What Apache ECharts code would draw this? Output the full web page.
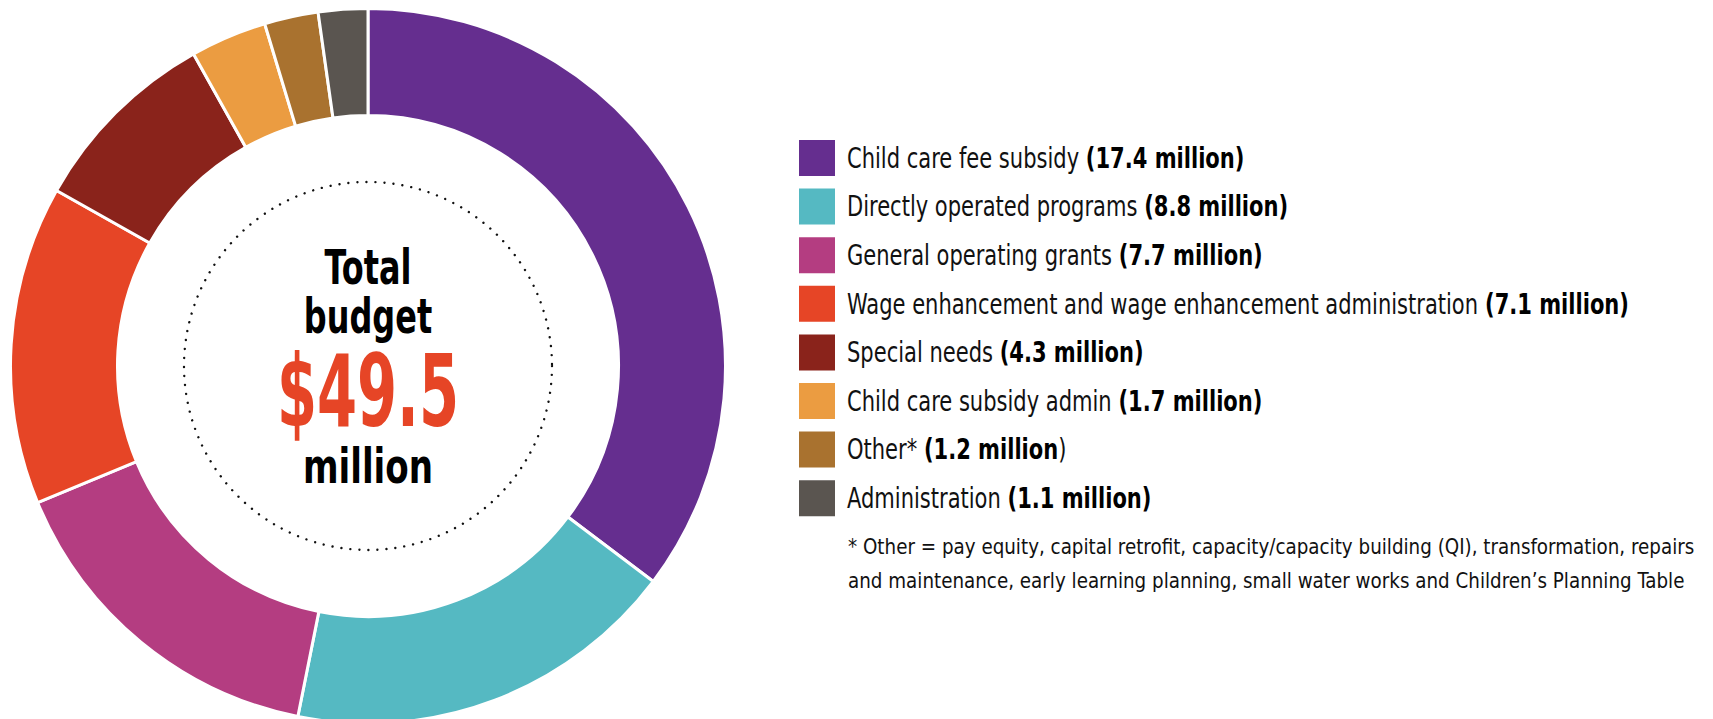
<!DOCTYPE html>
<html>
<head>
<meta charset="utf-8">
<title>Total budget</title>
<script src="https://cdn.jsdelivr.net/npm/echarts@6/dist/echarts.min.js"></script>
<style>
  html, body { margin: 0; padding: 0; background: #ffffff; }
  #chart { width: 1713px; height: 719px; }
</style>
</head>
<body>
<div id="chart"></div>
<script>
// Budget categories and amounts (millions of dollars)
const categories = [
  'Child care fee subsidy',
  'Directly operated programs',
  'General operating grants',
  'Wage enhancement and wage enhancement administration',
  'Special needs',
  'Child care subsidy admin',
  'Other*',
  'Administration'
];
const amounts = [17.4, 8.8, 7.7, 7.1, 4.3, 1.7, 1.2, 1.1];
const colors = ['#652e8f', '#55b9c2', '#b43d81', '#e64526', '#8a231b', '#eb9c41', '#a9722f', '#5a5550'];
const totalLabel = '$49.5';
const footnoteLines = [
  '* Other = pay equity, capital retrofit, capacity/capacity building (QI), transformation, repairs',
  'and maintenance, early learning planning, small water works and Children\u2019s Planning Table'
];

const FONT = '"DejaVu Sans Condensed", "Liberation Sans Narrow", Arial, sans-serif';
const CX = 368, CY = 366;

// Legend layout
const KEY_X = 799, KEY_TOP = 140, KEY_SIZE = 36, KEY_STEP = 48.6, TEXT_X = 847;

const chart = echarts.init(document.getElementById('chart'), null, { renderer: 'svg' });

const centerText = (text, y, size, color, sx) => ({
  type: 'text',
  x: CX, y: y,
  scaleX: sx,
  silent: true,
  style: {
    x: 0, y: 0,
    text: text,
    fill: color,
    font: 'bold ' + size + 'px ' + FONT,
    align: 'center',
    verticalAlign: 'middle'
  }
});

// Legend keys and labels built from the category arrays
const legendItems = [];
categories.forEach((name, i) => {
  const cy = KEY_TOP + KEY_SIZE / 2 + i * KEY_STEP;
  legendItems.push({
    type: 'rect',
    silent: true,
    shape: { x: KEY_X, y: cy - KEY_SIZE / 2, width: KEY_SIZE, height: KEY_SIZE },
    style: { fill: colors[i] }
  });
  const v = amounts[i].toFixed(1) + ' million';
  const label = name === 'Other*'
    ? '{n|' + name + ' }{b|(' + v + '}{n|)}'
    : '{n|' + name + ' }{b|(' + v + ')}';
  legendItems.push({
    type: 'text',
    silent: true,
    x: TEXT_X, y: cy,
    scaleX: 0.835,
    style: {
      x: 0, y: 0,
      text: label,
      align: 'left',
      verticalAlign: 'middle',
      rich: {
        n: { fontFamily: FONT, fontSize: 28, fill: '#111111' },
        b: { fontFamily: FONT, fontSize: 28, fontWeight: 'bold', fill: '#000000' }
      }
    }
  });
});

const footnoteItems = footnoteLines.map((line, i) => ({
  type: 'text',
  silent: true,
  x: 848, y: 546 + i * 34,
  scaleX: 0.925,
  style: {
    x: 0, y: 0,
    text: line,
    fill: '#111111',
    font: '22px ' + FONT,
    align: 'left',
    verticalAlign: 'middle'
  }
}));

chart.setOption({
  animation: false,
  backgroundColor: '#ffffff',
  color: colors,
  graphic: [
    {
      type: 'circle',
      silent: true,
      shape: { cx: CX, cy: CY, r: 184 },
      style: { fill: 'none', stroke: '#111111', lineWidth: 2.4, lineDash: [0.01, 9], lineCap: 'round' }
    },
    centerText('Total', 268, 48, '#000000', 0.74),
    centerText('budget', 317, 48, '#000000', 0.74),
    centerText(totalLabel, 391, 100, '#e64526', 0.64),
    centerText('million', 466, 48, '#000000', 0.79)
  ].concat(legendItems, footnoteItems),
  series: [{
    type: 'pie',
    center: [CX, CY],
    radius: [250.5, 357.5],
    startAngle: 90,
    clockwise: true,
    avoidLabelOverlap: false,
    label: { show: false },
    labelLine: { show: false },
    emphasis: { disabled: true },
    itemStyle: { borderColor: '#ffffff', borderWidth: 3 },
    data: categories.map((c, i) => ({ name: c, value: amounts[i] }))
  }]
});
</script>
</body>
</html>
